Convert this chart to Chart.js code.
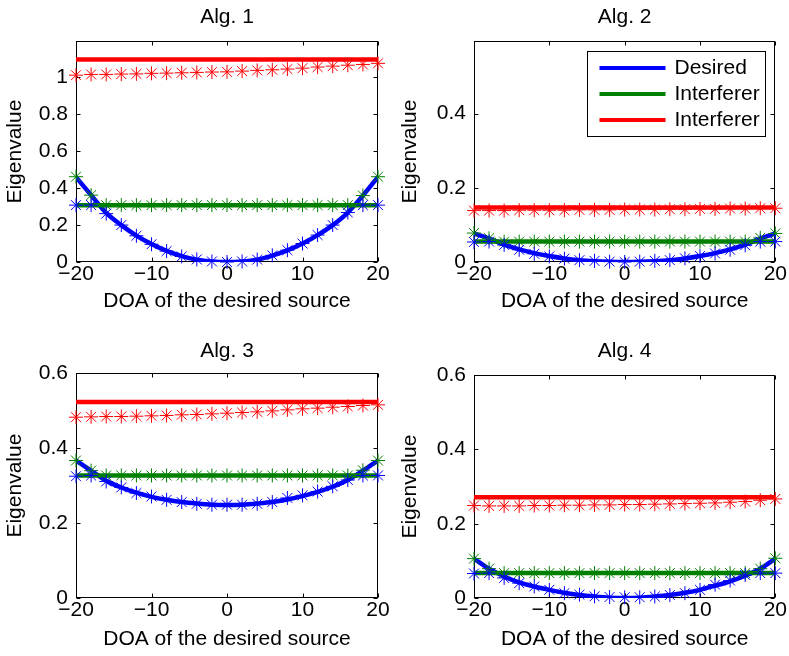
<!DOCTYPE html>
<html>
<head>
<meta charset="utf-8">
<title>Eigenvalues vs DOA</title>
<script src="https://cdn.jsdelivr.net/npm/chart.js@4.4.1/dist/chart.umd.min.js"></script>
<style>
  body { margin: 0; background: #fff; }
  #wrap { position: relative; width: 789px; height: 656px; }
  canvas { position: absolute; }
</style>
</head>
<body>
<div id="wrap">
  <canvas id="alg1" width="394" height="328" style="left:0;top:0"></canvas>
  <canvas id="alg2" width="394" height="328" style="left:395px;top:0"></canvas>
  <canvas id="alg3" width="394" height="326" style="left:0;top:330px"></canvas>
  <canvas id="alg4" width="394" height="326" style="left:395px;top:330px"></canvas>
</div>
<script>
// DOA grid of the simulated points and the ends of the flat curves
const doa = [-20, -18, -16, -14, -12, -10, -8, -6, -4, -2, 0, 2, 4, 6, 8, 10, 12, 14, 16, 18, 20];
const lineEnds = [-20, 20];
const xTicks = [-20, -10, 0, 10, 20];
const seriesLabels = ['Desired', 'Interferer', 'Interferer'];
const seriesColors = ['#0000ff', '#008000', '#ff0000'];

// Alg. 1
const alg1Desired = [0.46, 0.362, 0.266, 0.2, 0.143, 0.097, 0.06, 0.032, 0.013, 0.003, 0, 0.003, 0.013, 0.035, 0.063, 0.1, 0.146, 0.2, 0.268, 0.36, 0.461];
const alg1Interf1 = [0.308, 0.308];
const alg1Interf2 = [1.097, 1.097];
const alg1EigLow = [0.308, 0.308, 0.262, 0.2, 0.142, 0.096, 0.059, 0.03, 0.014, 0.003, 0, 0.003, 0.013, 0.036, 0.064, 0.1, 0.146, 0.2, 0.268, 0.308, 0.308];
const alg1EigMid = [0.462, 0.362, 0.308, 0.308, 0.308, 0.308, 0.308, 0.308, 0.308, 0.308, 0.308, 0.308, 0.308, 0.308, 0.308, 0.308, 0.308, 0.308, 0.308, 0.36, 0.462];
const alg1EigHigh = [1.012, 1.016, 1.016, 1.018, 1.019, 1.022, 1.023, 1.025, 1.027, 1.029, 1.03, 1.034, 1.038, 1.041, 1.045, 1.05, 1.056, 1.061, 1.066, 1.07, 1.076];
const alg1YTicks = [0, 0.2, 0.4, 0.6, 0.8, 1];

// Alg. 2
const alg2Desired = [0.077, 0.063, 0.047, 0.034, 0.024, 0.016, 0.0095, 0.005, 0.0022, 0.0006, 0, 0.0006, 0.0022, 0.005, 0.0095, 0.016, 0.024, 0.034, 0.047, 0.063, 0.077];
const alg2Interf1 = [0.055, 0.055];
const alg2Interf2 = [0.147, 0.147];
const alg2EigLow = [0.054, 0.055, 0.046, 0.033, 0.022, 0.015, 0.009, 0.005, 0.003, 0.001, 0, 0.001, 0.003, 0.005, 0.01, 0.016, 0.023, 0.033, 0.045, 0.055, 0.055];
const alg2EigMid = [0.078, 0.064, 0.055, 0.055, 0.055, 0.055, 0.055, 0.055, 0.055, 0.055, 0.055, 0.055, 0.055, 0.055, 0.055, 0.055, 0.055, 0.055, 0.055, 0.065, 0.077];
const alg2EigHigh = [0.1386, 0.1386, 0.1386, 0.1395, 0.1395, 0.1395, 0.1395, 0.1404, 0.1404, 0.1404, 0.1413, 0.1413, 0.1413, 0.1422, 0.1422, 0.1431, 0.1431, 0.144, 0.144, 0.1449, 0.1449];
const alg2YTicks = [0, 0.2, 0.4];

// Alg. 3
const alg3Desired = [0.367, 0.34, 0.313, 0.295, 0.281, 0.27, 0.262, 0.256, 0.252, 0.249, 0.248, 0.249, 0.252, 0.256, 0.263, 0.272, 0.283, 0.297, 0.315, 0.34, 0.367];
const alg3Interf1 = [0.327, 0.327];
const alg3Interf2 = [0.523, 0.523];
const alg3EigLow = [0.325, 0.327, 0.311, 0.295, 0.28, 0.271, 0.262, 0.256, 0.2515, 0.249, 0.249, 0.249, 0.2515, 0.256, 0.267, 0.274, 0.284, 0.298, 0.315, 0.327, 0.327];
const alg3EigMid = [0.367, 0.34, 0.327, 0.327, 0.327, 0.327, 0.327, 0.327, 0.327, 0.327, 0.327, 0.327, 0.327, 0.327, 0.327, 0.327, 0.327, 0.327, 0.327, 0.341, 0.367];
const alg3EigHigh = [0.4826, 0.4835, 0.4844, 0.4844, 0.4853, 0.4862, 0.4871, 0.4889, 0.4898, 0.4915, 0.4933, 0.4951, 0.4969, 0.4995, 0.5022, 0.5049, 0.5067, 0.5093, 0.5111, 0.5138, 0.5155];
const alg3YTicks = [0, 0.2, 0.4, 0.6];

// Alg. 4
const alg4Desired = [0.106, 0.079, 0.058, 0.042, 0.031, 0.022, 0.014, 0.008, 0.004, 0.001, 0, 0.001, 0.004, 0.008, 0.014, 0.022, 0.033, 0.045, 0.06, 0.079, 0.106];
const alg4Interf1 = [0.067, 0.067];
const alg4Interf2 = [0.271, 0.271];
const alg4EigLow = [0.066, 0.067, 0.054, 0.04, 0.031, 0.022, 0.013, 0.009, 0.0045, 0.0027, 0.002, 0.002, 0.004, 0.008, 0.013, 0.022, 0.036, 0.047, 0.062, 0.067, 0.067];
const alg4EigMid = [0.106, 0.079, 0.067, 0.067, 0.067, 0.067, 0.067, 0.067, 0.067, 0.067, 0.067, 0.067, 0.067, 0.067, 0.067, 0.067, 0.067, 0.067, 0.067, 0.079, 0.107];
const alg4EigHigh = [0.249, 0.248, 0.248, 0.248, 0.249, 0.249, 0.2499, 0.2499, 0.2507, 0.2507, 0.2517, 0.2517, 0.2526, 0.2534, 0.2543, 0.2552, 0.2561, 0.2579, 0.2597, 0.2633, 0.2668];
const alg4YTicks = [0, 0.2, 0.4, 0.6];

Chart.defaults.font.family = "'Liberation Sans', Arial, sans-serif";
Chart.defaults.font.size = 21;
Chart.defaults.color = '#000';

// matlab-ish box with inward ticks on all four sides
const framePlugin = {
    id: 'frame',
    beforeDatasetsDraw(chart) {
        const ctx = chart.ctx;
        const a = chart.chartArea;
        const sx = chart.scales.x, sy = chart.scales.y;
        const L = Math.round(a.left) + 0.5, R = Math.round(a.right) - 0.5;
        const T = Math.round(a.top) + 0.5, B = Math.round(a.bottom) - 0.5;
        ctx.save();
        ctx.strokeStyle = '#000';
        ctx.lineWidth = 1;
        ctx.strokeRect(L, T, R - L, B - T);
        ctx.beginPath();
        sx.ticks.forEach(t => {
            const px = Math.round(sx.getPixelForValue(t.value)) + 0.5;
            ctx.moveTo(px, B); ctx.lineTo(px, B - 4);
            ctx.moveTo(px, T); ctx.lineTo(px, T + 4);
        });
        sy.ticks.forEach(t => {
            const py = Math.round(sy.getPixelForValue(t.value)) + 0.5;
            ctx.moveTo(L, py); ctx.lineTo(L + 4, py);
            ctx.moveTo(R, py); ctx.lineTo(R - 4, py);
        });
        ctx.stroke();
        ctx.restore();
    }
};

// boxed legend in the upper right corner (only drawn for Alg. 2)
const boxLegendPlugin = {
    id: 'boxLegend',
    afterDatasetsDraw(chart, args, opts) {
        if (!opts.show) return;
        const ctx = chart.ctx;
        const a = chart.chartArea;
        const w = 178, h = 85;
        const left = Math.round(a.right - 10 - w) + 0.5;
        const top = Math.round(a.top + 10) + 0.5;
        ctx.save();
        ctx.fillStyle = '#fff';
        ctx.fillRect(left, top, w, h);
        ctx.strokeStyle = '#000';
        ctx.lineWidth = 1;
        ctx.strokeRect(left, top, w, h);
        ctx.font = "21px 'Liberation Sans', Arial, sans-serif";
        ctx.textBaseline = 'middle';
        ctx.textAlign = 'left';
        seriesLabels.forEach((lab, i) => {
            const y = top + 16.5 + i * 26;
            ctx.strokeStyle = seriesColors[i];
            ctx.lineWidth = 4;
            ctx.beginPath();
            ctx.moveTo(left + 12, y);
            ctx.lineTo(left + 78, y);
            ctx.stroke();
            ctx.fillStyle = '#000';
            ctx.fillText(lab, left + 87, y);
        });
        ctx.restore();
    }
};

const panels = [
    { id: 'alg1', title: 'Alg. 1', curves: [alg1Desired, alg1Interf1, alg1Interf2], stars: [alg1EigLow, alg1EigMid, alg1EigHigh],
      yMax: 1.196, yTicks: alg1YTicks, legend: false,
      yWidth: 76, padRight: 16, xHeight: 66, titlePad: { top: 5, bottom: 11 }, xTitlePad: 14 },
    { id: 'alg2', title: 'Alg. 2', curves: [alg2Desired, alg2Interf1, alg2Interf2], stars: [alg2EigLow, alg2EigMid, alg2EigHigh],
      yMax: 0.595, yTicks: alg2YTicks, legend: true,
      yWidth: 79, padRight: 12, xHeight: 66, titlePad: { top: 5, bottom: 11 }, xTitlePad: 14 },
    { id: 'alg3', title: 'Alg. 3', curves: [alg3Desired, alg3Interf1, alg3Interf2], stars: [alg3EigLow, alg3EigMid, alg3EigHigh],
      yMax: 0.6, yTicks: alg3YTicks, legend: false,
      yWidth: 76, padRight: 16, xHeight: 58, titlePad: { top: 9, bottom: 9 }, xTitlePad: 4 },
    { id: 'alg4', title: 'Alg. 4', curves: [alg4Desired, alg4Interf1, alg4Interf2], stars: [alg4EigLow, alg4EigMid, alg4EigHigh],
      yMax: 0.6, yTicks: alg4YTicks, legend: false,
      yWidth: 79, padRight: 12, xHeight: 58, titlePad: { top: 9, bottom: 11 }, xTitlePad: 4 }
];

panels.forEach(function (p) {
    const datasets = [];
    // theoretical curves: thick solid lines
    p.curves.forEach(function (vals, i) {
        const xs = vals.length === doa.length ? doa : lineEnds;
        datasets.push({
            label: seriesLabels[i],
            data: xs.map((x, k) => ({ x: x, y: vals[k] })),
            borderColor: seriesColors[i],
            backgroundColor: seriesColors[i],
            borderWidth: 4.5,
            pointRadius: 0,
            cubicInterpolationMode: 'monotone',
            order: 3 - i
        });
    });
    // simulated eigenvalues: asterisk markers
    p.stars.forEach(function (vals, i) {
        datasets.push({
            label: seriesLabels[i] + ' (sim.)',
            data: doa.map((x, k) => ({ x: x, y: vals[k] })),
            showLine: false,
            pointStyle: 'star',
            pointRadius: 7,
            pointBorderWidth: 1,
            borderColor: seriesColors[i],
            backgroundColor: seriesColors[i],
            clip: false,
            order: 0
        });
    });

    new Chart(document.getElementById(p.id), {
        type: 'line',
        data: { datasets: datasets },
        plugins: [framePlugin, boxLegendPlugin],
        options: {
            responsive: false,
            animation: false,
            events: [],
            layout: { padding: { left: 0, right: p.padRight, top: 0, bottom: 0 } },
            scales: {
                x: {
                    type: 'linear',
                    min: -20,
                    max: 20,
                    grid: { display: false, drawTicks: false },
                    border: { display: false },
                    afterBuildTicks: s => { s.ticks = xTicks.map(v => ({ value: v })); },
                    afterFit: s => { s.height = p.xHeight; },
                    ticks: {
                        padding: 2,
                        maxRotation: 0,
                        font: { size: 21, lineHeight: 1 },
                        callback: v => String(v).replace('-', '\u2212')
                    },
                    title: { display: true, text: 'DOA of the desired source', font: { size: 21 }, padding: { top: 0, bottom: p.xTitlePad } }
                },
                y: {
                    type: 'linear',
                    min: 0,
                    max: p.yMax,
                    grid: { display: false, drawTicks: false },
                    border: { display: false },
                    afterBuildTicks: s => { s.ticks = p.yTicks.map(v => ({ value: v })); },
                    afterFit: s => { s.width = p.yWidth; },
                    ticks: {
                        padding: 8,
                        font: { size: 21, lineHeight: 1 },
                        callback: v => String(v)
                    },
                    title: { display: true, text: 'Eigenvalue', font: { size: 21 }, padding: { top: 3, bottom: 0 } }
                }
            },
            plugins: {
                legend: { display: false },
                tooltip: { enabled: false },
                title: { display: true, fullSize: false, text: p.title, font: { size: 21, weight: 'normal' }, padding: p.titlePad },
                boxLegend: { show: p.legend }
            }
        }
    });
});
</script>
</body>
</html>
